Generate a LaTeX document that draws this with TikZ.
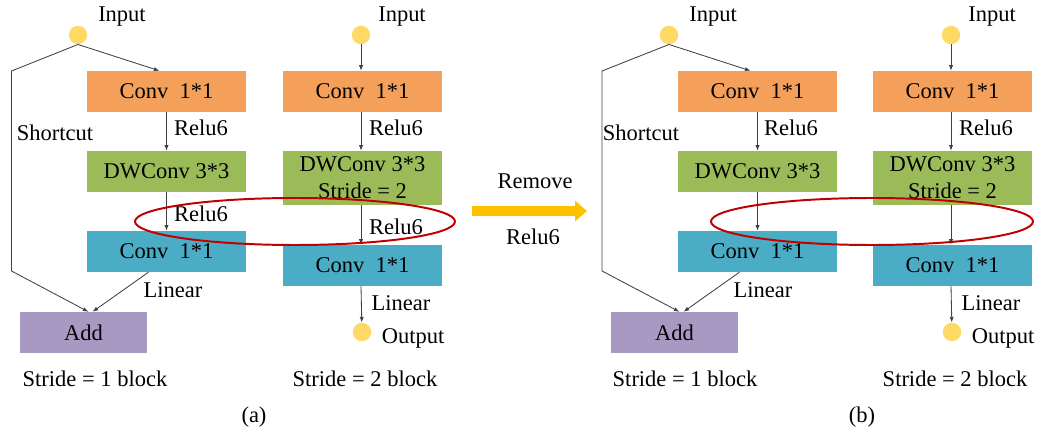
\documentclass[tikz,border=0pt]{standalone}
\usepackage{fontspec}
\setmainfont{Liberation Serif}
\usetikzlibrary{arrows.meta,calc}
\definecolor{convorange}{HTML}{F5A05A}
\definecolor{dwgreen}{HTML}{9BBB59}
\definecolor{pwblue}{HTML}{4BACC6}
\definecolor{addpurple}{HTML}{A899C2}
\definecolor{ioyellow}{HTML}{FFD966}
\definecolor{ringred}{HTML}{C00000}
\definecolor{removegold}{HTML}{FFC000}

\begin{document}
\begin{tikzpicture}[x=0.025cm, y=-0.025cm,
  every node/.style={font=\fontsize{16}{19}\selectfont, inner sep=0pt},
  blk/.style={minimum width=3.98cm, minimum height=1.02cm},
  io/.style={circle, fill=ioyellow, minimum size=0.46cm},
  link/.style={-{Latex[length=4pt,width=3pt]}, draw=black!75, line width=0.6pt},
  ring/.style={draw=ringred, line width=1.4pt},
]
  \useasboundingbox (0,0) rectangle (1038,432);
  % (a)
  \node[io] (a-in1) at (78,35) {};
  \node (a-in1-t) at (122,17) {Input};
  \node[io] (a-in2) at (361,35) {};
  \node (a-in2-t) at (402,17) {Input};
  \node[blk, fill=convorange] (a-c1) at (166.5,91.5) {Conv\ \ 1*1};
  \node[blk, fill=dwgreen] (a-dw) at (166.5,171.5) {DWConv 3*3};
  \node[blk, fill=pwblue] (a-c3) at (166.5,251.5) {Conv\ \ 1*1};
  \node[blk, fill=addpurple, minimum width=3.18cm] (a-add) at (83.5,332.5) {Add};
  \node[blk, fill=convorange] (a-c1r) at (362.5,91.5) {Conv\ \ 1*1};
  \node[blk, fill=dwgreen, minimum height=1.35cm, align=center] (a-dwr) at (362.5,178) {DWConv 3*3\\Stride = 2};
  \node[blk, fill=pwblue] (a-c3r) at (362.5,265.5) {Conv\ \ 1*1};
  \node[io] (a-out) at (362,332) {};
  \node (a-out-t) at (413,338) {Output};
  \node (a-sc-t) at (55,133) {Shortcut};
  \node (a-r1) at (201,128) {Relu6};
  \node (a-r2) at (201,214) {Relu6};
  \node (a-lin) at (173,290) {Linear};
  \node (a-r1r) at (396,128) {Relu6};
  \node (a-r2r) at (396,227) {Relu6};
  \node (a-linr) at (401,303) {Linear};
  \node (a-s1) at (95,379) {Stride = 1 block};
  \node (a-s2) at (365,379) {Stride = 2 block};
  \node (a-cap) at (254,417) {(a)};
  \coordinate (a-sc1) at (11.5,71);
  \coordinate (a-sc2) at (11.5,271);
  \draw[link] (a-in1.south) -- ($(a-c1.north)+(-7,0)$);
  \draw[link] (a-in1.south) -- (a-sc1) -- (a-sc2) -- ($(a-add.north)+(5,0)$);
  \draw[link] (a-c1) -- (a-dw);
  \draw[link] (a-dw) -- (a-c3);
  \draw[link] ($(a-c3.south)+(-18,0)$) -- ($(a-add.north)+(9,0)$);
  \draw[link] (a-in2.south) -- (a-in2.south |- a-c1r.north);
  \draw[link] (a-c1r.south -| a-in2) -- (a-dwr.north -| a-in2);
  \draw[link] (a-dwr.south -| a-in2) -- (a-c3r.north -| a-in2);
  \draw[link] (a-c3r.south -| a-in2) -- (a-out);
  \draw[ring] (295,221.5) ellipse [x radius=160, y radius=23.5];

  % remove arrow
  \coordinate (rm-s) at (472,211);
  \coordinate (rm-e) at (587,211);
  \draw[removegold, line width=0.25cm, -{Triangle[length=0.3cm,width=0.5cm]}] (rm-s) -- (rm-e);
  \node (rm-t1) at (535,181) {Remove};
  \node (rm-t2) at (533,237) {Relu6};

  % (b)
  \node[io] (b-in1) at (669,35) {};
  \node (b-in1-t) at (713,17) {Input};
  \node[io] (b-in2) at (951,35) {};
  \node (b-in2-t) at (992,17) {Input};
  \node[blk, fill=convorange] (b-c1) at (757.5,91.5) {Conv\ \ 1*1};
  \node[blk, fill=dwgreen] (b-dw) at (757.5,171.5) {DWConv 3*3};
  \node[blk, fill=pwblue] (b-c3) at (757.5,251.5) {Conv\ \ 1*1};
  \node[blk, fill=addpurple, minimum width=3.18cm] (b-add) at (674.5,332.5) {Add};
  \node[blk, fill=convorange] (b-c1r) at (952.5,91.5) {Conv\ \ 1*1};
  \node[blk, fill=dwgreen, minimum height=1.35cm, align=center] (b-dwr) at (952.5,178) {DWConv 3*3\\Stride = 2};
  \node[blk, fill=pwblue] (b-c3r) at (952.5,265.5) {Conv\ \ 1*1};
  \node[io] (b-out) at (952,332) {};
  \node (b-out-t) at (1003,338) {Output};
  \node (b-sc-t) at (641,133) {Shortcut};
  \node (b-r1) at (791,128) {Relu6};
  \node (b-lin) at (763,290) {Linear};
  \node (b-r1r) at (986,128) {Relu6};
  \node (b-linr) at (991,303) {Linear};
  \node (b-s1) at (685,379) {Stride = 1 block};
  \node (b-s2) at (955,379) {Stride = 2 block};
  \node (b-cap) at (862,417) {(b)};
  \coordinate (b-sc1) at (602,71);
  \coordinate (b-sc2) at (602,271);
  \draw[link] (b-in1.south) -- ($(b-c1.north)+(-7,0)$);
  \draw[link] (b-in1.south) -- (b-sc1) -- (b-sc2) -- ($(b-add.north)+(5,0)$);
  \draw[link] (b-c1) -- (b-dw);
  \draw[link] (b-dw) -- (b-c3);
  \draw[link] ($(b-c3.south)+(-18,0)$) -- ($(b-add.north)+(9,0)$);
  \draw[link] (b-in2.south) -- (b-in2.south |- b-c1r.north);
  \draw[link] (b-c1r.south -| b-in2) -- (b-dwr.north -| b-in2);
  \draw[link] (b-dwr.south -| b-in2) -- (b-c3r.north -| b-in2);
  \draw[link] (b-c3r.south -| b-in2) -- (b-out);
  \draw[ring] (872,221.5) ellipse [x radius=161, y radius=23.5];
\end{tikzpicture}
\end{document}
